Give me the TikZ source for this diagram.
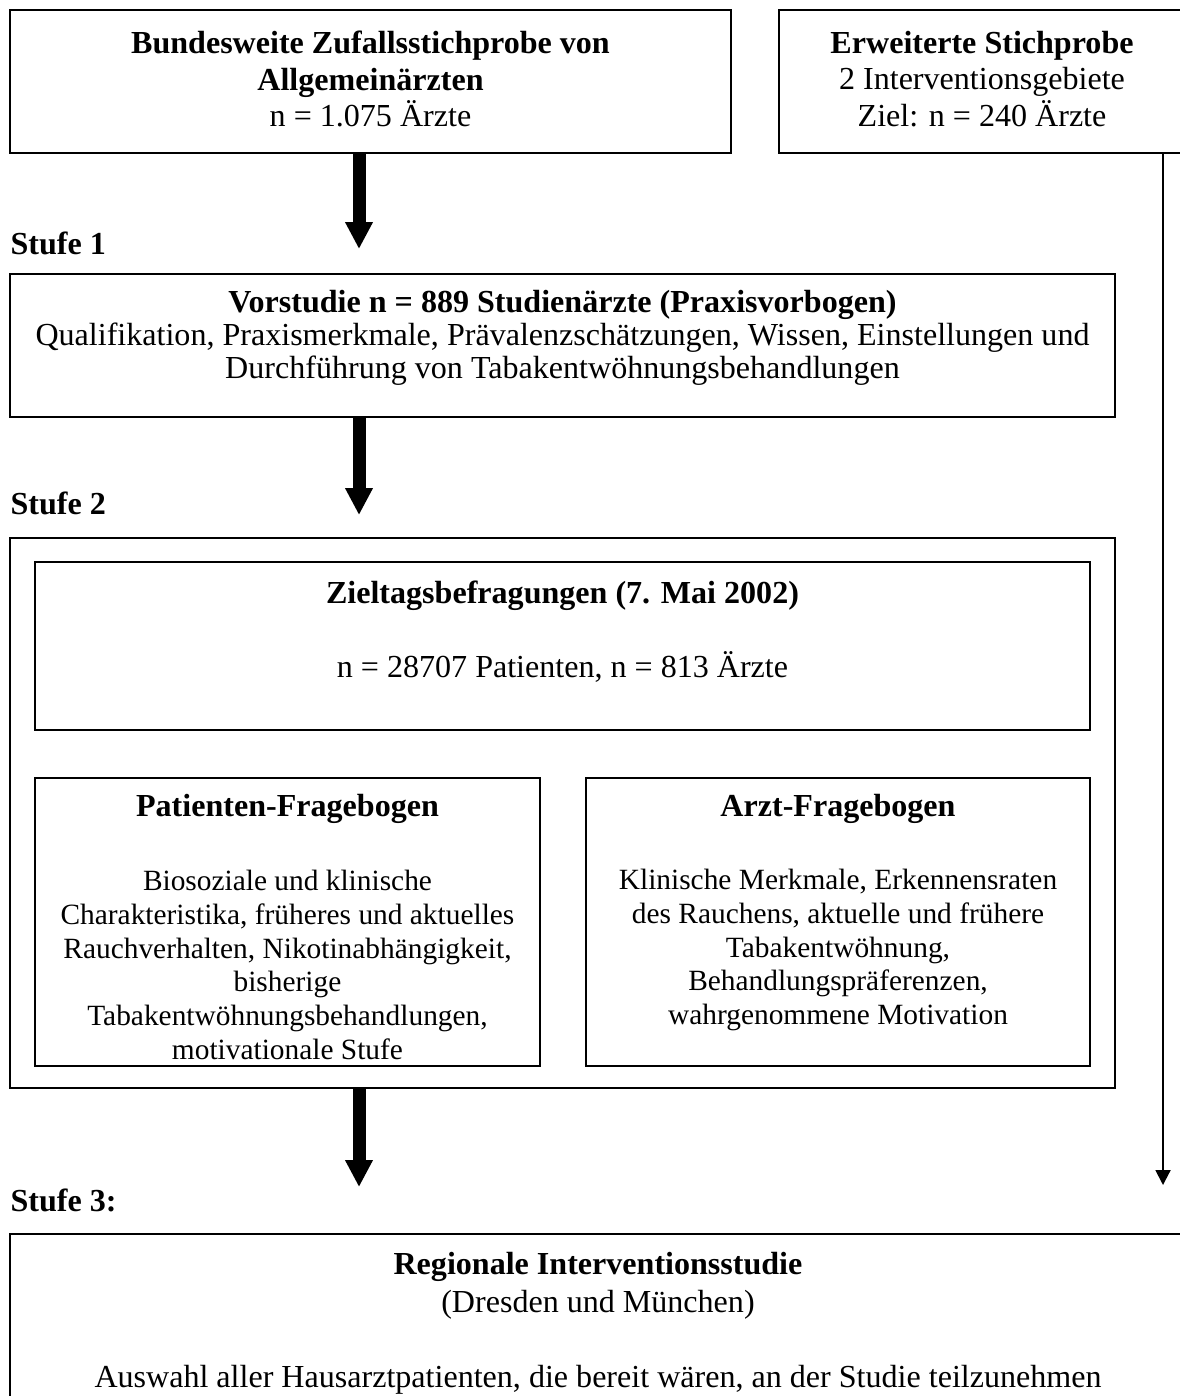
\documentclass[tikz,border=0pt]{standalone}
\usepackage{fontspec}
\setmainfont{Liberation Serif}
\usetikzlibrary{arrows.meta, fit}

\tikzset{
    box/.style={draw, line width=0.75pt, inner sep=0pt},
    txt/.style={align=center, inner sep=0pt, font=\fontsize{12pt}{13.8pt}\selectfont},
    smalltxt/.style={align=center, inner sep=0pt, font=\fontsize{11pt}{12.65pt}\selectfont},
    stage/.style={anchor=west, inner sep=0pt, font=\fontsize{12pt}{13.8pt}\selectfont\bfseries},
    bigarrow/.style={line width=0.171cm, -{Triangle[width=0.342cm, length=0.355cm]}},
    thinarrow/.style={line width=0.75pt, -{Triangle[width=0.197cm, length=0.197cm]}},
}

\begin{document}
\begin{tikzpicture}[x=0.01315cm, y=-0.01315cm]
\useasboundingbox (0,0) rectangle (1179,1396);

\node [box, fit={(10,10) (731,153)}] (bund) {};
\node [box, fit={(779,10) (1186,153)}] (erw) {};
\node [box, fit={(10,274) (1115,417)}] (vor) {};
\node [box, fit={(10,538) (1115,1088)}] (befr) {};
\node [box, fit={(35,562) (1090,730)}] (ziel) {};
\node [box, fit={(35,778) (540,1066)}] (pat) {};
\node [box, fit={(586,778) (1090,1066)}] (arzt) {};
\node [box, fit={(10,1234) (1186,1420)}] (reg) {};

\node [txt] (bundtxt) at (370.5,79) {\textbf{Bundesweite Zufallsstichprobe von}\\ \textbf{Allgemeinärzten}\\ n = 1.075 Ärzte};
\node [txt] (erwtxt) at (982,79) {\textbf{Erweiterte Stichprobe}\\ 2 Interventionsgebiete\\ Ziel: n = 240 Ärzte};
\node [txt, font=\fontsize{12pt}{12.4pt}\selectfont] (vortxt) at (562.5,338) {\textbf{Vorstudie n = 889 Studienärzte (Praxisvorbogen)}\\ Qualifikation, Praxismerkmale, Prävalenzschätzungen, Wissen, Einstellungen und\\ Durchführung von Tabakentwöhnungsbehandlungen};
\node [txt] (zieltxt) at (562.5,632) {\textbf{Zieltagsbefragungen (7. Mai 2002)}\\[13.8pt] n = 28707 Patienten, n = 813 Ärzte};
\node [txt, font=\fontsize{12pt}{13.8pt}\selectfont\bfseries] (pattitle) at (287.5,809) {Patienten-Fragebogen};
\node [smalltxt] (pattxt) at (287.5,965) {Biosoziale und klinische\\ Charakteristika, früheres und aktuelles\\ Rauchverhalten, Nikotinabhängigkeit,\\ bisherige\\ Tabakentwöhnungsbehandlungen,\\ motivationale Stufe};
\node [txt, font=\fontsize{12pt}{13.8pt}\selectfont\bfseries] (arzttitle) at (838,809) {Arzt-Fragebogen};
\node [smalltxt] (arzttxt) at (838,950) {Klinische Merkmale, Erkennensraten\\ des Rauchens, aktuelle und frühere\\ Tabakentwöhnung,\\ Behandlungspräferenzen,\\ wahrgenommene Motivation};
\node [txt, font=\fontsize{12pt}{14.2pt}\selectfont] (regtxt) at (598,1323) {\textbf{Regionale Interventionsstudie}\\ (Dresden und München)\\[13.8pt] Auswahl aller Hausarztpatienten, die bereit wären, an der Studie teilzunehmen};

\foreach \i/\y/\t in {1/243/Stufe 1, 2/503/Stufe 2, 3/1200/Stufe 3:} {
    \node [stage] (stufe\i) at (10,\y) {\t};
}

\coordinate (tip1) at (359,249);
\coordinate (tip2) at (359,515);
\coordinate (tip3) at (359,1187);
\coordinate (tip4) at (1163,1185);
\foreach \src/\tip in {bund/tip1, vor/tip2, befr/tip3} {
    \draw [bigarrow] (\src.south -| \tip) -- (\tip);
}
\draw [thinarrow] (erw.south -| tip4) -- (tip4);
\end{tikzpicture}
\end{document}
